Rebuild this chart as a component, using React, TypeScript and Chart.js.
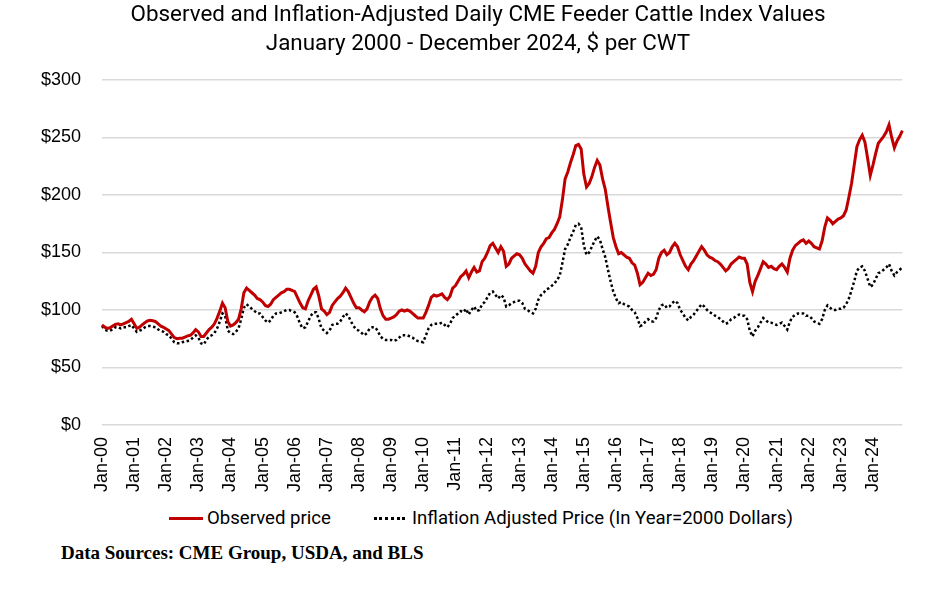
import React, { useEffect, useRef } from "react";
import { Chart, registerables } from "chart.js";

Chart.register(...registerables);

const years = [
  2000, 2001, 2002, 2003, 2004, 2005, 2006, 2007, 2008, 2009, 2010, 2011, 2012,
  2013, 2014, 2015, 2016, 2017, 2018, 2019, 2020, 2021, 2022, 2023, 2024,
];
const monthNames = ["Jan", "Feb", "Mar", "Apr", "May", "Jun", "Jul", "Aug", "Sep", "Oct", "Nov", "Dec"];

// monthly readings, $ per CWT
const observedPrice = [
  87, 85, 84, 84.5, 86, 87.5, 88, 87, 88, 89, 90, 92, // 2000
  88, 84, 85, 87, 89, 90.5, 91, 90.7, 90, 88, 86, 85, // 2001
  83.5, 82, 79, 76, 75, 75.5, 75.5, 76.5, 77.5, 78, 80, 83, // 2002
  81, 77, 77, 80, 83, 85, 88, 93, 99, 106, 102, 90, // 2003
  86, 87, 89, 92, 101, 115, 119, 117, 115, 113, 110, 109, // 2004
  107, 104, 103, 105, 109, 111, 113, 115, 116, 118, 118, 117, // 2005
  116, 111, 106, 102, 101, 108, 113, 118, 120, 112, 101, 99, // 2006
  96, 98, 104, 107, 110, 112, 115, 119, 116, 111, 106, 102, // 2007
  102, 100, 98.5, 101, 107, 111, 113, 110, 101, 95, 92, 92, // 2008
  93, 94, 96, 99, 100, 99, 100, 99, 97, 95, 93, 93, // 2009
  93, 98, 104, 111, 113, 112, 113, 114, 111, 109, 112, 119, // 2010
  121, 125, 129, 131, 134, 128, 133, 137, 133, 134, 142, 145, // 2011
  150, 156, 158, 154, 150, 155, 151, 138, 140, 145, 147, 149, // 2012
  148, 145, 140, 137, 134, 132, 138, 150, 155, 158, 162, 163, // 2013
  167, 170, 175, 181, 196, 214, 220, 228, 235, 243, 244, 240, // 2014
  218, 207, 210, 216, 224, 230, 226, 214, 205, 190, 176, 163, // 2015
  155, 149, 150, 148, 146, 145, 141, 139, 132, 122, 124, 128, // 2016
  132, 130, 131, 135, 145, 150, 152, 148, 150, 155, 158, 155, // 2017
  148, 143, 138, 135, 140, 143, 147, 151, 155, 152, 148, 146, // 2018
  145, 143, 142, 140, 137, 134, 136, 140, 142, 144, 146, 145, // 2019
  145, 140, 124, 116, 125, 130, 136, 142, 140, 137, 138, 136, // 2020
  135, 138, 140, 137, 133, 145, 152, 156, 158, 160, 161, 158, // 2021
  160, 158, 155, 154, 153, 160, 172, 180, 178, 175, 177, 179, // 2022
  180, 182, 187, 198, 210, 226, 242, 248, 252, 246, 232, 217, // 2023
  226, 236, 245, 248, 251, 255, 261, 250, 241, 247, 251, 256, // 2024
];

const adjustedPrice = [
  86, 83, 82, 82, 83, 85, 85, 84, 85, 85, 86, 87, // 2000
  84, 81, 82, 83, 85, 86, 86, 85.5, 85, 83, 82, 81, // 2001
  79, 78, 75, 72, 71, 71, 72, 72.5, 73, 74, 76, 78, // 2002
  76, 71, 70, 74, 77, 78, 80, 84, 90, 97, 95, 82, // 2003
  80, 79, 81, 84, 92, 102, 105, 103, 101, 99, 97, 97, // 2004
  94, 91, 89, 91, 95, 97, 97, 98, 99, 100, 100, 99, // 2005
  98, 94, 88, 84, 85, 90, 95, 98, 98, 92, 84, 82, // 2006
  80, 82, 87, 88, 88, 90, 94, 97, 95, 90, 86, 83, // 2007
  82, 80, 78, 80, 84, 85, 85, 82, 77, 75, 74, 74, // 2008
  74, 73, 74, 76, 78, 78, 78, 77, 76, 74, 73, 72.5, // 2009
  72, 78, 84, 87, 88, 88, 88, 89, 87, 85, 88, 93, // 2010
  95, 97, 99, 98, 101, 96, 100, 103, 99, 100, 105, 107, // 2011
  111, 115, 116, 113, 110, 113, 111, 103, 104, 106, 107, 108, // 2012
  108, 106, 101, 100, 98, 97, 101, 109, 113, 115, 118, 119, // 2013
  121, 123, 126, 130, 141, 153, 157, 163, 168, 174, 175, 172, // 2014
  156, 148, 150, 155, 160, 164, 161, 153, 146, 135, 125, 116, // 2015
  110, 106, 107, 105, 104, 103, 100, 98, 93, 86, 87, 90, // 2016
  92, 90, 90, 93, 100, 104, 105, 102, 103, 106, 108, 106, // 2017
  100, 97, 93, 91, 94, 96, 99, 102, 105, 103, 100, 98, // 2018
  97, 95, 94, 92, 90, 88, 89, 92, 93, 95, 96, 95, // 2019
  95, 92, 82, 77, 82, 85, 89, 93, 91, 89, 89, 88, // 2020
  87, 88, 89, 86, 83, 90, 94, 96, 97, 97, 97, 95, // 2021
  95, 93, 90, 89, 88, 92, 100, 104, 102, 100, 100, 101, // 2022
  101, 102, 105, 110, 117, 125, 134, 137, 138, 134, 127, 120, // 2023
  122, 127, 132, 133, 135, 137, 140, 134, 130, 133, 135, 137, // 2024
];

const labels = years.flatMap((y) => monthNames.map((m) => `${m}-${String(y).slice(2)}`));

const titleLines = [
  "Observed and Inflation-Adjusted Daily CME Feeder Cattle Index Values",
  "January 2000 - December 2024, $ per CWT",
];

const RED = "#C00000";

const App = () => {
  const chartRef = useRef<HTMLCanvasElement | null>(null);
  const chartInstance = useRef<Chart | null>(null);

  useEffect(() => {
    if (chartInstance.current) chartInstance.current.destroy();
    const ctx = chartRef.current?.getContext("2d");
    if (!ctx) return;

    chartInstance.current = new Chart(ctx, {
      type: "line",
      data: {
        labels,
        datasets: [
          {
            label: "Observed price",
            data: observedPrice,
            borderColor: RED,
            borderWidth: 3,
            pointRadius: 0,
            tension: 0,
          },
          {
            label: "Inflation Adjusted Price (In Year=2000 Dollars)",
            data: adjustedPrice,
            borderColor: "#000000",
            borderWidth: 2.5,
            borderDash: [2.5, 2.5],
            pointRadius: 0,
            tension: 0,
          },
        ],
      },
      options: {
        responsive: true,
        maintainAspectRatio: false,
        animation: false,
        layout: { padding: { left: 20, right: 26, top: 80, bottom: 0 } },
        plugins: {
          legend: { display: false },
          tooltip: { enabled: false },
          title: { display: false },
        },
        scales: {
          x: {
            type: "category",
            grid: { display: false, drawTicks: false },
            border: { display: false },
            afterFit: (scale) => {
              scale.height = 75;
            },
            ticks: {
              autoSkip: false,
              minRotation: 90,
              maxRotation: 90,
              padding: 12,
              color: "#000",
              font: { family: "Liberation Sans", size: 18 },
              callback: (_v, i) => (labels[i].startsWith("Jan") ? labels[i] : ""),
            },
          },
          y: {
            min: 0,
            max: 300,
            grid: { color: "#d9d9d9", lineWidth: 1.5, drawTicks: false },
            border: { display: false },
            afterFit: (scale) => {
              scale.width = 82;
            },
            ticks: {
              stepSize: 50,
              padding: 21,
              color: "#000",
              font: { family: "Liberation Sans", size: 18 },
              callback: (v) => `$${v}`,
            },
          },
        },
      },
    });

    return () => {
      if (chartInstance.current) chartInstance.current.destroy();
    };
  }, []);

  const legendText: React.CSSProperties = {
    position: "absolute",
    top: 506,
    fontFamily: "Roboto",
    fontSize: 18.6,
    lineHeight: "24px",
    color: "#000",
    whiteSpace: "nowrap",
  };

  return (
    <div style={{ position: "absolute", left: 0, top: 0, width: 936, height: 594, background: "#fff" }}>
      <div style={{ position: "relative", width: 936, height: 500 }}>
        <canvas ref={chartRef}></canvas>
      </div>
      <div
        style={{
          position: "absolute",
          left: 20,
          top: -1,
          width: 916,
          textAlign: "center",
          fontFamily: "Roboto",
          fontSize: 22.4,
          lineHeight: "29px",
          color: "#000",
          whiteSpace: "nowrap",
        }}
      >
        {titleLines.map((t) => (
          <div key={t}>{t}</div>
        ))}
      </div>
      <div style={{ position: "absolute", left: 169, top: 516.5, width: 34, height: 3, background: RED }} />
      <div style={{ ...legendText, left: 207 }}>Observed price</div>
      <div style={{ position: "absolute", left: 374, top: 517, width: 31, height: 0, borderTop: "3px dotted #000" }} />
      <div style={{ ...legendText, left: 412 }}>Inflation Adjusted Price (In Year=2000 Dollars)</div>
      <div
        style={{
          position: "absolute",
          left: 61,
          top: 541,
          fontFamily: "Liberation Serif",
          fontWeight: "bold",
          fontSize: 19,
          lineHeight: "24px",
          color: "#000",
          whiteSpace: "nowrap",
        }}
      >
        Data Sources: CME Group, USDA, and BLS
      </div>
    </div>
  );
};

export default App;
